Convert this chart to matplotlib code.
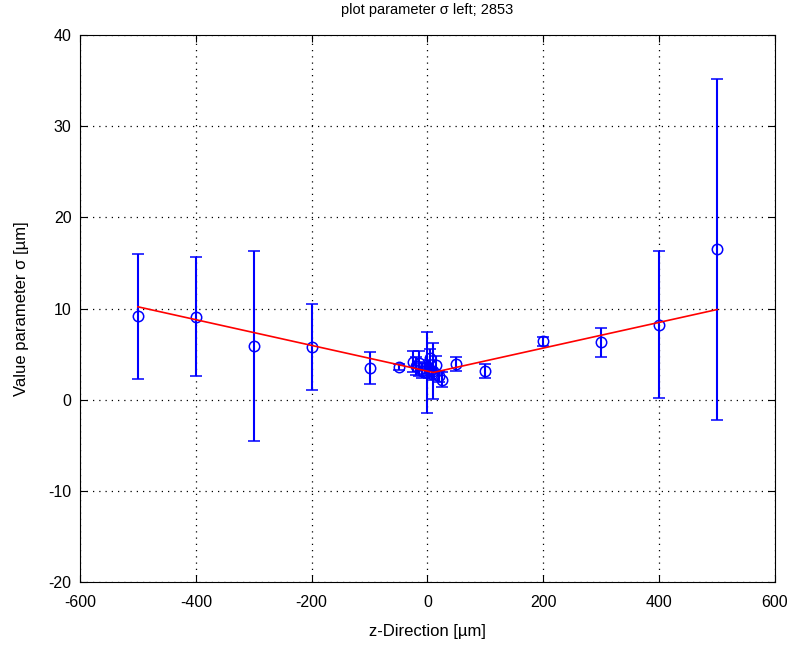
import matplotlib
matplotlib.use("Agg")
import matplotlib.pyplot as plt
from matplotlib.ticker import MultipleLocator

plt.rcParams['font.family'] = ['Liberation Sans', 'DejaVu Sans']
plt.rcParams['axes.unicode_minus'] = False

# z positions [um], fitted sigma values and their uncertainties
z_pos = [-500, -400, -300, -200, -100, -50,
         -25, -20, -15, -10, -5, 0, 3, 5, 8, 10, 15, 20, 25,
         50, 100, 200, 300, 400, 500]
sigma = [9.15, 9.13, 5.9, 5.8, 3.5, 3.6,
         4.2, 3.7, 4.0, 3.2, 3.5, 3.0, 3.4, 4.6, 2.8, 3.15, 3.8, 2.6, 2.2,
         3.9, 3.15, 6.4, 6.3, 8.25, 16.5]
sigma_err = [6.85, 6.55, 10.4, 4.75, 1.75, 0.3,
             1.2, 1.0, 1.4, 0.8, 0.7, 4.4, 1.0, 1.0, 0.6, 3.1, 1.0, 0.6, 0.8,
             0.78, 0.75, 0.5, 1.57, 8.1, 18.7]

# piecewise-linear fit (V shape)
fit_z = [-500, 10, 500]
fit_sigma = [10.2, 3.0, 9.9]

x_ticks = [-600, -400, -200, 0, 200, 400, 600]
y_ticks = [-20, -10, 0, 10, 20, 30, 40]

fig = plt.figure(figsize=(7.92, 6.52), dpi=100)
ax = fig.add_axes([0.101, 0.107, 0.8775, 0.8393])

ax.errorbar(z_pos, sigma, yerr=sigma_err, fmt='o', color='#0000ff',
            mfc='none', mec='#0000ff', ms=7.5, mew=1.1, elinewidth=1.5,
            capsize=4.5, capthick=1.5, zorder=3)
ax.plot(fit_z, fit_sigma, color='#ff0000', lw=1.2, zorder=4)

ax.set_xlim(-600, 600)
ax.set_ylim(-20, 40)
ax.set_xticks(x_ticks)
ax.set_yticks(y_ticks)
ax.xaxis.set_minor_locator(MultipleLocator(1000))
ax.tick_params(direction='in', top=True, right=True, length=5,
               labelsize=11.5, width=0.8)
ax.tick_params(axis='x', pad=9)
ax.tick_params(axis='y', pad=6)
ax.grid(True, color='black', linestyle=(0, (1, 4)), linewidth=0.9)
for s in ax.spines.values():
    s.set_linewidth(0.8)

ax.set_title('plot parameter σ left; 2853', fontsize=10.5, pad=15)
ax.set_xlabel('z-Direction [µm]', fontsize=12, labelpad=10)
ax.set_ylabel('Value parameter σ [µm]', fontsize=12, labelpad=14)

fig.savefig('out.png', dpi=100)
